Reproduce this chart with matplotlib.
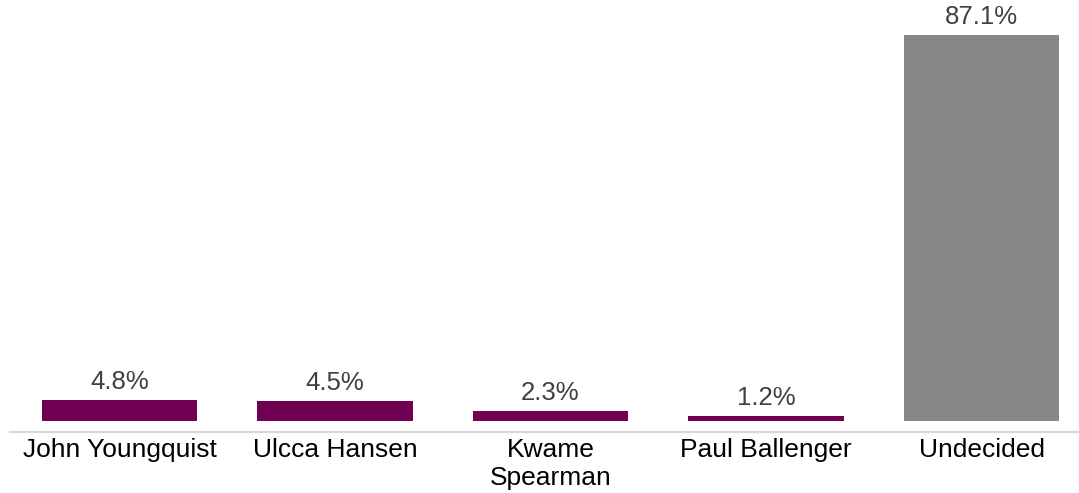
import matplotlib.pyplot as plt

candidates = ["John Youngquist", "Ulcca Hansen", "Kwame\nSpearman", "Paul Ballenger", "Undecided"]
shares = [4.8, 4.5, 2.3, 1.2, 87.1]
bar_colors = ["#6f0052", "#6f0052", "#6f0052", "#6f0052", "#878787"]

plt.rcParams['font.family'] = ['Liberation Sans', 'DejaVu Sans']

fig = plt.figure(figsize=(10.79, 4.93), dpi=100)
ax = fig.add_axes([10 / 1079, 61 / 493, 1 - 10 / 1079, 432 / 493])

x = range(len(candidates))
bars = ax.bar(x, shares, width=0.72, color=bar_colors)

for b, v in zip(bars, shares):
    ax.text(b.get_x() + b.get_width() / 2, v + 1.3, "{:.1f}%".format(v),
            ha='center', va='bottom', fontsize=18.5, color='#404040')

ax.set_xlim(-0.508, 4.452)
ax.set_ylim(-2.5, 95)
ax.set_xticks(list(x))
ax.set_xticklabels(candidates, fontsize=19, color='black', linespacing=1.22)
ax.tick_params(axis='x', length=0, pad=4)
ax.set_yticks([])

for s in ['top', 'right', 'left']:
    ax.spines[s].set_visible(False)
ax.spines['bottom'].set_color('#d9d9d9')
ax.spines['bottom'].set_linewidth(1.6)

fig.savefig("out.png", dpi=100)
